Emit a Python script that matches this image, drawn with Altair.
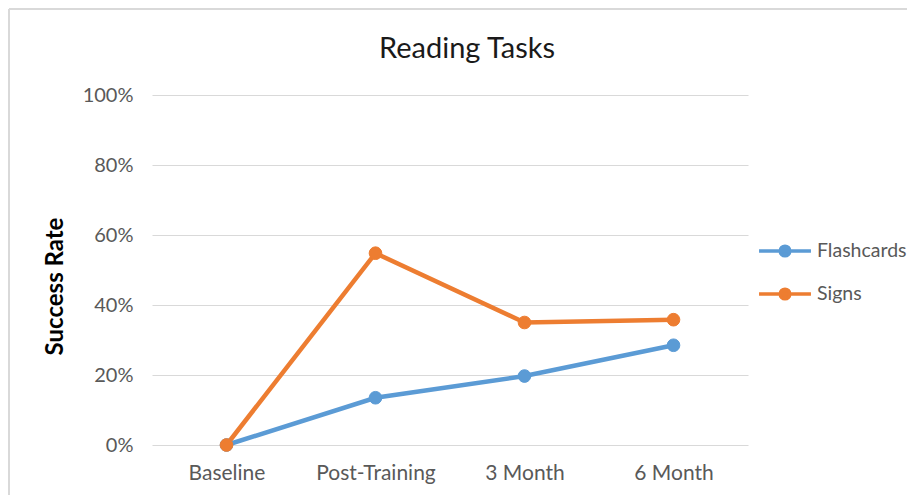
import altair as alt
import pandas as pd

stages = ["Baseline", "Post-Training", "3 Month", "6 Month"]
flashcards = [0.0, 0.135, 0.197, 0.285]
signs = [0.0, 0.548, 0.35, 0.358]
series_names = ["Flashcards", "Signs"]
colors = ["#5B9BD5", "#ED7D31"]
chart_title = "Reading Tasks"

rows = []
for s, vals in zip(series_names, [flashcards, signs]):
    for i, (st, v) in enumerate(zip(stages, vals)):
        rows.append({"Stage": st, "Series": s, "Rate": v, "order": i})
df = pd.DataFrame(rows)

FONT = "Lato"
GREY = "#595959"

color_scale = alt.Scale(domain=series_names, range=colors)


def make_legend():
    return alt.Legend(
        title=None, orient="none", legendX=616, legendY=139,
        symbolType="M -1.73 0 L 1.73 0 M 0.32 0 A 0.32 0.32 0 1 1 -0.32 0 A 0.32 0.32 0 1 1 0.32 0 Z",
        symbolSize=900, symbolStrokeWidth=3.5,
        labelFontSize=19.5, labelFont=FONT, labelColor=GREY,
        labelOffset=15, rowPadding=14, padding=0, labelLimit=200)


base = alt.Chart(df).encode(
    x=alt.X("Stage:N", sort=stages,
            axis=alt.Axis(title=None, labelAngle=0, ticks=False, domain=False,
                          labelFontSize=21, labelColor=GREY, labelFont=FONT,
                          labelPadding=17, grid=False),
            scale=alt.Scale(paddingInner=0, paddingOuter=0.0)),
    y=alt.Y("Rate:Q", scale=alt.Scale(domain=[0, 1]),
            axis=alt.Axis(title="Success Rate", format=".0%",
                          values=[0, 0.2, 0.4, 0.6, 0.8, 1.0],
                          ticks=False, domain=False, gridColor="#D9D9D9",
                          labelFontSize=20, labelColor=GREY, labelFont=FONT,
                          labelPadding=19,
                          titleFontSize=24, titleFont=FONT, titleFontWeight="bold",
                          titleColor="#000000", titleAngle=-90,
                          titleX=-97, titleY=191, titleAlign="center",
                          titleBaseline="middle")),
    order="order:Q",
)

lines = base.mark_line(strokeWidth=4.5).encode(
    stroke=alt.Stroke("Series:N", scale=color_scale, legend=make_legend()))
points = base.mark_point(filled=True, size=160, opacity=1, strokeWidth=1).encode(
    fill=alt.Fill("Series:N", scale=color_scale, legend=make_legend()),
    stroke=alt.Stroke("Series:N", scale=color_scale, legend=make_legend()))

one = pd.DataFrame({"t": [chart_title]})
border = alt.Chart(one).mark_rule(color="#D9D9D9", strokeWidth=2).encode(
    x=alt.value(-143), y=alt.value(-86), y2=alt.value(400))
border_top = alt.Chart(one).mark_rule(color="#D9D9D9", strokeWidth=2).encode(
    x=alt.value(-143), x2=alt.value(760), y=alt.value(-86))
title = alt.Chart(one).mark_text(fontSize=29, font=FONT, color="#1A1A1A",
                                 align="center", baseline="alphabetic").encode(
    text="t:N", x=alt.value(315), y=alt.value(-37))

chart = alt.layer(border, border_top, title, lines, points).properties(
    width=596, height=350,
    background="white",
    autosize=alt.AutoSizeParams(type="none"),
    padding={"left": 144, "top": 87, "right": 159, "bottom": 50},
).configure_view(strokeWidth=0, stroke=None)

chart.save("out.html", embed_options={"renderer": "svg", "actions": False})
